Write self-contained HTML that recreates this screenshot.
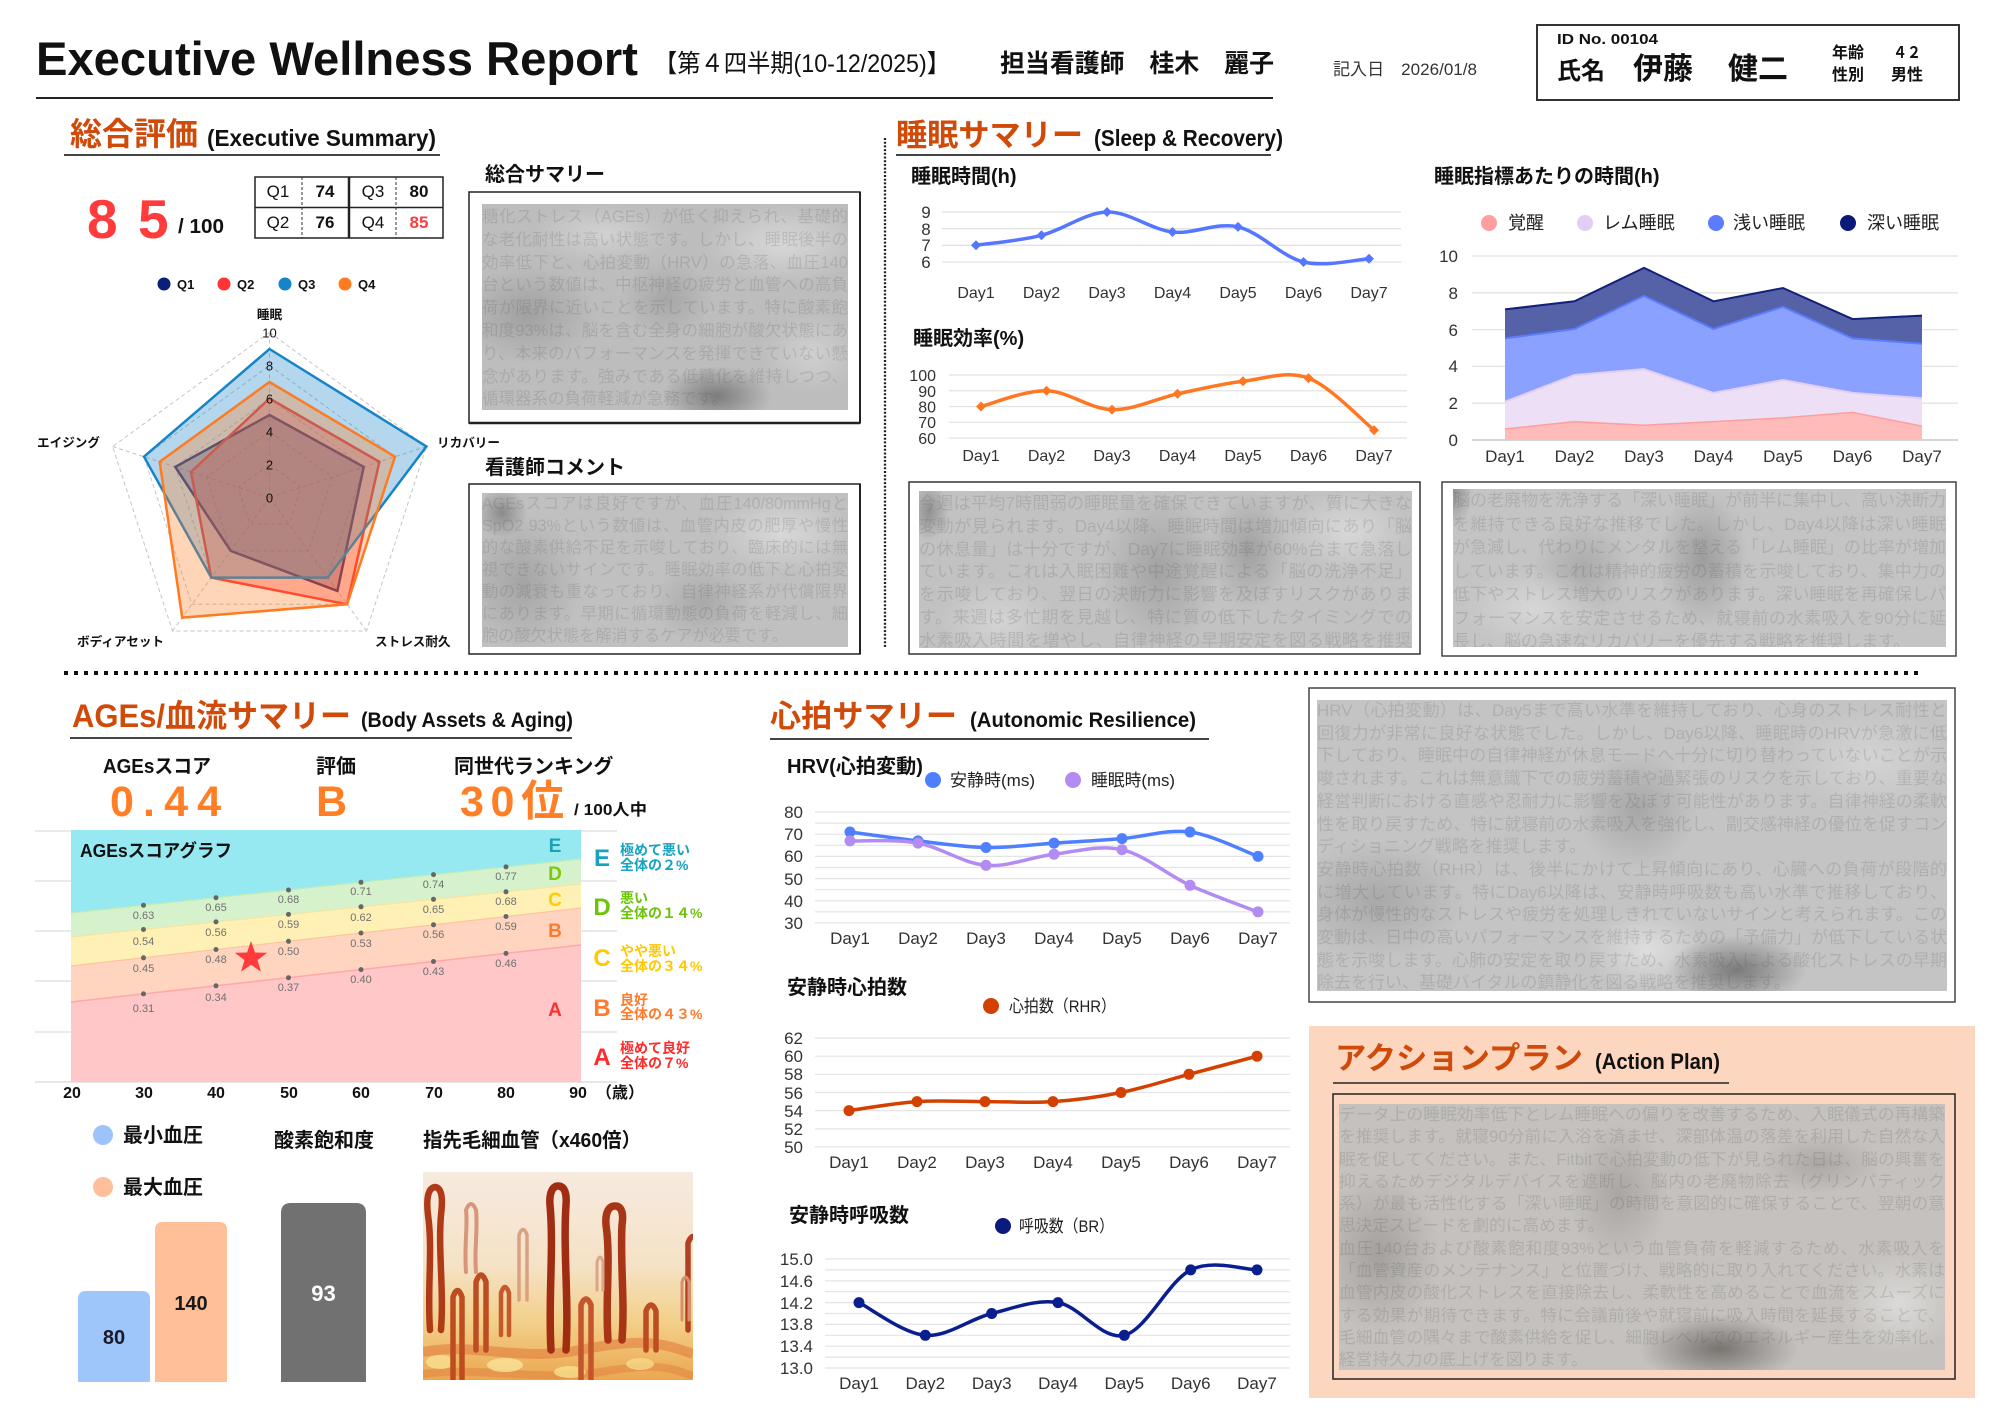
<!DOCTYPE html>
<html lang="ja">
<head>
<meta charset="utf-8">
<title>Executive Wellness Report</title>
<style>
html,body{margin:0;padding:0;background:#fff;}
#pg{position:relative;width:2000px;height:1414px;overflow:hidden;background:#fff;font-family:"Liberation Sans","Noto Sans CJK JP",sans-serif;}
#pg>svg{position:absolute;left:0;top:0;}
svg text{font-family:"Liberation Sans","Noto Sans CJK JP",sans-serif;}
.b{font-weight:bold;}
.mos{position:absolute;overflow:hidden;color:rgba(70,70,70,.16);font-family:"Liberation Sans","Noto Sans CJK JP",sans-serif;text-align:justify;box-sizing:border-box;}
</style>
</head>
<body>
<div id="pg">
<svg width="2000" height="1414" viewBox="0 0 2000 1414" xmlns="http://www.w3.org/2000/svg" fill="#111">
<defs>
<linearGradient id="capg" x1="0" y1="0" x2="0" y2="1">
<stop offset="0" stop-color="#f6eadf"/>
<stop offset="0.45" stop-color="#f5e2c6"/>
<stop offset="0.72" stop-color="#f3d08a"/>
<stop offset="1" stop-color="#eba750"/>
</linearGradient>
<clipPath id="capc"><rect x="423" y="1172" width="270" height="208"/></clipPath>
</defs>

<!-- ===== HEADER ===== -->
<text x="36" y="75" font-size="47" class="b" textLength="602" lengthAdjust="spacingAndGlyphs">Executive Wellness Report</text>
<text x="654" y="72" font-size="25" textLength="296" lengthAdjust="spacingAndGlyphs">【第４四半期(10-12/2025)】</text>
<line x1="36" y1="98" x2="1273" y2="98" stroke="#222" stroke-width="2"/>
<text x="1000" y="72" font-size="25" class="b" textLength="274" lengthAdjust="spacingAndGlyphs">担当看護師　桂木　麗子</text>
<text x="1333" y="75" font-size="17" fill="#333" textLength="144" lengthAdjust="spacingAndGlyphs">記入日　2026/01/8</text>
<rect x="1537" y="25" width="422" height="75" fill="#fff" stroke="#333" stroke-width="2"/>
<text x="1557" y="44" font-size="15" class="b" textLength="101" lengthAdjust="spacingAndGlyphs">ID No. 00104</text>
<text x="1557" y="79" font-size="24" class="b">氏名</text>
<text x="1633" y="79" font-size="30" class="b">伊藤</text>
<text x="1728" y="79" font-size="30" class="b">健二</text>
<text x="1832" y="58" font-size="16" class="b">年齢</text>
<text x="1893" y="58" font-size="16" class="b" textLength="28" lengthAdjust="spacingAndGlyphs">４２</text>
<text x="1832" y="80" font-size="16" class="b">性別</text>
<text x="1891" y="80" font-size="16" class="b">男性</text>

<!-- ===== EXECUTIVE SUMMARY ===== -->
<text x="70" y="145" font-size="32" class="b" fill="#d04a0a" textLength="128" lengthAdjust="spacingAndGlyphs">総合評価</text>
<text x="207" y="146" font-size="23" class="b" textLength="229" lengthAdjust="spacingAndGlyphs">(Executive Summary)</text>
<line x1="64" y1="155" x2="440" y2="155" stroke="#444" stroke-width="2"/>

<text x="87" y="238" font-size="55" class="b" fill="#ff3b3b">8</text>
<text x="138" y="238" font-size="55" class="b" fill="#ff3b3b">5</text>
<text x="178" y="233" font-size="20" class="b" textLength="46" lengthAdjust="spacingAndGlyphs">/ 100</text>

<!-- Q table -->
<rect x="255" y="177" width="188" height="61" fill="#fff" stroke="#222" stroke-width="1.5"/>
<line x1="255" y1="207.5" x2="443" y2="207.5" stroke="#222" stroke-width="1.5"/>
<line x1="349" y1="177" x2="349" y2="238" stroke="#222" stroke-width="2.5"/>
<line x1="302" y1="177" x2="302" y2="238" stroke="#333" stroke-width="1" stroke-dasharray="3 2"/>
<line x1="396" y1="177" x2="396" y2="238" stroke="#333" stroke-width="1" stroke-dasharray="3 2"/>
<g font-size="17" text-anchor="middle">
<text x="278" y="197">Q1</text><text x="325" y="197" class="b">74</text>
<text x="373" y="197">Q3</text><text x="419" y="197" class="b">80</text>
<text x="278" y="228">Q2</text><text x="325" y="228" class="b">76</text>
<text x="373" y="228">Q4</text><text x="419" y="228" class="b" fill="#ff3b3b">85</text>
</g>

<!-- radar legend -->
<circle cx="164" cy="284" r="6.5" fill="#0b1f7a"/><text x="177" y="289" font-size="13" class="b">Q1</text>
<circle cx="224" cy="284" r="6.5" fill="#ff3333"/><text x="237" y="289" font-size="13" class="b">Q2</text>
<circle cx="285" cy="284" r="6.5" fill="#1684c9"/><text x="298" y="289" font-size="13" class="b">Q3</text>
<circle cx="345" cy="284" r="6.5" fill="#ff7b22"/><text x="358" y="289" font-size="13" class="b">Q4</text>

<!-- radar grid -->
<g fill="none" stroke="#c4c4c4" stroke-width="1" stroke-dasharray="4 3">
<polygon points="269.5,332.5 426.4,446.5 366.5,631 172.5,631 112.6,446.5"/>
<polygon points="269.5,365.5 395,456.7 347.1,604.3 191.9,604.3 144,456.7"/>
<polygon points="269.5,398.5 363.7,466.9 327.7,577.6 211.3,577.6 175.3,466.9"/>
<polygon points="269.5,431.5 332.3,477.1 308.3,550.9 230.7,550.9 206.7,477.1"/>
<polygon points="269.5,464.5 300.9,487.3 288.9,524.2 250.1,524.2 238.1,487.3"/>
<line x1="269.5" y1="497.5" x2="269.5" y2="332.5"/>
<line x1="269.5" y1="497.5" x2="426.4" y2="446.5"/>
<line x1="269.5" y1="497.5" x2="366.5" y2="631"/>
<line x1="269.5" y1="497.5" x2="172.5" y2="631"/>
<line x1="269.5" y1="497.5" x2="112.6" y2="446.5"/>
</g>
<!-- radar series -->
<g stroke-width="2.5" stroke-linejoin="miter">
<polygon points="269.5,415 363.7,466.9 337.4,590.9 230.7,550.9 175.3,466.9" fill="#0b1f7a" fill-opacity="0.32" stroke="#0b1f7a"/>
<polygon points="269.5,398.5 379.4,461.8 347.1,604.3 211.3,577.6 191,472" fill="#ff3333" fill-opacity="0.32" stroke="#ff3333"/>
<polygon points="269.5,349 426.4,446.5 327.7,577.6 211.3,577.6 144,456.7" fill="#1684c9" fill-opacity="0.32" stroke="#1684c9"/>
<polygon points="269.5,382 395,456.7 347.1,604.3 182.2,617.6 159.7,461.8" fill="#ff7b22" fill-opacity="0.32" stroke="#ff7b22"/>
</g>
<g font-size="13" text-anchor="middle">
<text x="269.5" y="337.5">10</text>
<text x="269.5" y="370.5">8</text>
<text x="269.5" y="403.5">6</text>
<text x="269.5" y="436.5">4</text>
<text x="269.5" y="469.5">2</text>
<text x="269.5" y="502.5">0</text>
</g>
<g font-size="12.6" class="b">
<text x="269.5" y="319" text-anchor="middle">睡眠</text>
<text x="437" y="447">リカバリー</text>
<text x="375" y="646">ストレス耐久</text>
<text x="77" y="646">ボディアセット</text>
<text x="37" y="447">エイジング</text>
</g>

<!-- summary boxes -->
<text x="485" y="181" font-size="20" class="b">総合サマリー</text>
<rect x="469" y="192" width="391" height="231" fill="#fff" stroke="#222" stroke-width="1.5"/>
<line x1="469" y1="423" x2="860" y2="423" stroke="#222" stroke-width="2.5"/>
<line x1="860" y1="192" x2="860" y2="423" stroke="#222" stroke-width="2"/>
<text x="485" y="474" font-size="20" class="b">看護師コメント</text>
<rect x="469" y="484" width="391" height="170" fill="#fff" stroke="#222" stroke-width="1.5"/>
<line x1="860" y1="484" x2="860" y2="654" stroke="#222" stroke-width="2"/>

<!-- separators -->
<line x1="885" y1="138" x2="885" y2="648" stroke="#222" stroke-width="2.3" stroke-dasharray="2 1.7"/>
<line x1="64" y1="673" x2="1918" y2="673" stroke="#111" stroke-width="4" stroke-dasharray="4 6"/>

<!-- ===== SLEEP ===== -->
<text x="896" y="146" font-size="31" class="b" fill="#d04a0a" textLength="187" lengthAdjust="spacingAndGlyphs">睡眠サマリー</text>
<text x="1094" y="146" font-size="23" class="b" textLength="189" lengthAdjust="spacingAndGlyphs">(Sleep &amp; Recovery)</text>
<line x1="896" y1="155" x2="1271" y2="155" stroke="#444" stroke-width="2"/>

<text x="911" y="183" font-size="20" class="b">睡眠時間(h)</text>
<g stroke="#e2e2e2" stroke-width="1.3">
<line x1="942" y1="212" x2="1401" y2="212"/><line x1="942" y1="228.7" x2="1401" y2="228.7"/>
<line x1="942" y1="245.3" x2="1401" y2="245.3"/><line x1="942" y1="262" x2="1401" y2="262"/>
</g>
<g font-size="17" fill="#333" text-anchor="middle">
<text x="926" y="218">9</text><text x="926" y="235">8</text><text x="926" y="251">7</text><text x="926" y="268">6</text>
</g>
<path d="M976,245.3 C986.9,243.6 1019.7,240.9 1041.5,235.3 C1063.3,229.8 1085.2,212.6 1107,212 C1128.8,211.5 1150.7,229.5 1172.5,232 C1194.3,234.5 1216.2,221.9 1238,226.9 C1259.8,231.9 1281.7,256.7 1303.5,262 C1325.3,267.3 1358.1,259.25 1369,258.7" fill="none" stroke="#5577ff" stroke-width="3.5"/>
<g fill="#5577ff">
<path d="M976,240.3 L981,245.3 L976,250.3 L971,245.3Z"/>
<path d="M1041.5,230.3 L1046.5,235.3 L1041.5,240.3 L1036.5,235.3Z"/>
<path d="M1107,207 L1112,212 L1107,217 L1102,212Z"/>
<path d="M1172.5,227 L1177.5,232 L1172.5,237 L1167.5,232Z"/>
<path d="M1238,221.9 L1243,226.9 L1238,231.9 L1233,226.9Z"/>
<path d="M1303.5,257 L1308.5,262 L1303.5,267 L1298.5,262Z"/>
<path d="M1369,253.7 L1374,258.7 L1369,263.7 L1364,258.7Z"/>
</g>
<g font-size="16" fill="#333" text-anchor="middle">
<text x="976" y="298">Day1</text><text x="1041.5" y="298">Day2</text><text x="1107" y="298">Day3</text><text x="1172.5" y="298">Day4</text><text x="1238" y="298">Day5</text><text x="1303.5" y="298">Day6</text><text x="1369" y="298">Day7</text>
</g>

<text x="913" y="345" font-size="20" class="b">睡眠効率(%)</text>
<g stroke="#e2e2e2" stroke-width="1.3">
<line x1="949" y1="375" x2="1407" y2="375"/><line x1="949" y1="390.75" x2="1407" y2="390.75"/>
<line x1="949" y1="406.5" x2="1407" y2="406.5"/><line x1="949" y1="422.25" x2="1407" y2="422.25"/>
<line x1="949" y1="438" x2="1407" y2="438"/>
</g>
<g font-size="16" fill="#333" text-anchor="end">
<text x="936" y="381">100</text><text x="936" y="397">90</text><text x="936" y="412.5">80</text><text x="936" y="428">70</text><text x="936" y="444">60</text>
</g>
<path d="M981,406.5 C991.9,403.9 1024.7,390.2 1046.5,390.75 C1068.3,391.3 1090.2,409.1 1112,409.65 C1133.8,410.2 1155.7,398.6 1177.5,393.9 C1199.3,389.2 1221.2,383.9 1243,381.3 C1264.8,378.7 1286.7,370 1308.5,378.15 C1330.3,386.3 1363.1,421.4 1374,430.1" fill="none" stroke="#ff7722" stroke-width="3.5"/>
<g fill="#ff7722">
<path d="M981,401.5 L986,406.5 L981,411.5 L976,406.5Z"/>
<path d="M1046.5,385.75 L1051.5,390.75 L1046.5,395.75 L1041.5,390.75Z"/>
<path d="M1112,404.65 L1117,409.65 L1112,414.65 L1107,409.65Z"/>
<path d="M1177.5,388.9 L1182.5,393.9 L1177.5,398.9 L1172.5,393.9Z"/>
<path d="M1243,376.3 L1248,381.3 L1243,386.3 L1238,381.3Z"/>
<path d="M1308.5,373.15 L1313.5,378.15 L1308.5,383.15 L1303.5,378.15Z"/>
<path d="M1374,425.1 L1379,430.1 L1374,435.1 L1369,430.1Z"/>
</g>
<g font-size="16" fill="#333" text-anchor="middle">
<text x="981" y="461">Day1</text><text x="1046.5" y="461">Day2</text><text x="1112" y="461">Day3</text><text x="1177.5" y="461">Day4</text><text x="1243" y="461">Day5</text><text x="1308.5" y="461">Day6</text><text x="1374" y="461">Day7</text>
</g>

<!-- Sleep stages -->
<text x="1434" y="183" font-size="20" class="b">睡眠指標あたりの時間(h)</text>
<circle cx="1489" cy="223" r="8" fill="#ff9f9f"/><text x="1508" y="229" font-size="18" fill="#222">覚醒</text>
<circle cx="1585" cy="223" r="8" fill="#e2cdf6"/><text x="1603" y="229" font-size="18" fill="#222">レム睡眠</text>
<circle cx="1716" cy="223" r="8" fill="#5b7cff"/><text x="1733" y="229" font-size="18" fill="#222">浅い睡眠</text>
<circle cx="1848" cy="223" r="8" fill="#0b1a78"/><text x="1867" y="229" font-size="18" fill="#222">深い睡眠</text>
<g stroke="#e2e2e2" stroke-width="1.3">
<line x1="1472" y1="256" x2="1958" y2="256"/><line x1="1472" y1="292.8" x2="1958" y2="292.8"/>
<line x1="1472" y1="329.6" x2="1958" y2="329.6"/><line x1="1472" y1="366.4" x2="1958" y2="366.4"/>
<line x1="1472" y1="403.2" x2="1958" y2="403.2"/>
</g>
<line x1="1472" y1="440" x2="1958" y2="440" stroke="#c8c8c8" stroke-width="1.5"/>
<polygon points="1505,309.4 1574.5,301.3 1644,267.8 1713.5,301.3 1783,288 1852.5,319.1 1922,315.6 1922,440 1505,440" fill="#5562a8"/>
<polyline points="1505,309.4 1574.5,301.3 1644,267.8 1713.5,301.3 1783,288 1852.5,319.1 1922,315.6" fill="none" stroke="#13207a" stroke-width="2"/>
<polygon points="1505,338.4 1574.5,329 1644,295.9 1713.5,329 1783,306.8 1852.5,338.4 1922,343.8 1922,440 1505,440" fill="#8aa1ff"/>
<polyline points="1505,338.4 1574.5,329 1644,295.9 1713.5,329 1783,306.8 1852.5,338.4 1922,343.8" fill="none" stroke="#5b7cff" stroke-width="2"/>
<polygon points="1505,401.7 1574.5,375 1644,369.2 1713.5,392.9 1783,380 1852.5,392.9 1922,398.2 1922,440 1505,440" fill="#ecdff6"/>
<polyline points="1505,401.7 1574.5,375 1644,369.2 1713.5,392.9 1783,380 1852.5,392.9 1922,398.2" fill="none" stroke="#e2cdf4" stroke-width="2"/>
<polygon points="1505,429 1574.5,421.6 1644,425.3 1713.5,421.6 1783,417.9 1852.5,412.4 1922,426.2 1922,440 1505,440" fill="#ffbaba"/>
<polyline points="1505,429 1574.5,421.6 1644,425.3 1713.5,421.6 1783,417.9 1852.5,412.4 1922,426.2" fill="none" stroke="#ff9e9e" stroke-width="1.5"/>
<g font-size="17" fill="#333" text-anchor="end">
<text x="1458" y="262">10</text><text x="1458" y="299">8</text><text x="1458" y="336">6</text><text x="1458" y="372">4</text><text x="1458" y="409">2</text><text x="1458" y="446">0</text>
</g>
<g font-size="17" fill="#333" text-anchor="middle">
<text x="1505" y="462">Day1</text><text x="1574.5" y="462">Day2</text><text x="1644" y="462">Day3</text><text x="1713.5" y="462">Day4</text><text x="1783" y="462">Day5</text><text x="1852.5" y="462">Day6</text><text x="1922" y="462">Day7</text>
</g>

<!-- sleep comment boxes -->
<rect x="909" y="482" width="511" height="172" fill="#fff" stroke="#333" stroke-width="1.5"/>
<rect x="1442" y="482" width="514" height="174" fill="#fff" stroke="#444" stroke-width="1.5"/>

<!-- ===== AGEs ===== -->
<text x="72" y="727" font-size="32" class="b" fill="#d04a0a" textLength="279" lengthAdjust="spacingAndGlyphs">AGEs/血流サマリー</text>
<text x="361" y="727" font-size="21" class="b" textLength="212" lengthAdjust="spacingAndGlyphs">(Body Assets &amp; Aging)</text>
<line x1="70" y1="738" x2="572" y2="738" stroke="#444" stroke-width="2"/>

<text x="103" y="773" font-size="20" class="b" textLength="108" lengthAdjust="spacingAndGlyphs">AGEsスコア</text>
<text x="316" y="773" font-size="20" class="b">評価</text>
<text x="454" y="773" font-size="20" class="b">同世代ランキング</text>
<text x="110" y="816" font-size="43" class="b" fill="#ff7f27" textLength="111" lengthAdjust="spacing">0.44</text>
<text x="316" y="816" font-size="43" class="b" fill="#ff7f27">B</text>
<text x="460" y="816" font-size="43" class="b" fill="#ff7f27" textLength="104" lengthAdjust="spacing">30位</text>
<text x="574" y="815" font-size="16" class="b" textLength="73" lengthAdjust="spacingAndGlyphs">/ 100人中</text>

<g stroke="#dedede" stroke-width="1.2">
<line x1="35" y1="831" x2="617" y2="831"/><line x1="35" y1="881" x2="617" y2="881"/>
<line x1="35" y1="931" x2="617" y2="931"/><line x1="35" y1="981" x2="617" y2="981"/>
<line x1="35" y1="1032" x2="617" y2="1032"/>
</g>
<polygon points="71,830 581,830 581,859 71,913" fill="#96e9f0"/>
<polygon points="71,913 581,859 581,884 71,937" fill="#d5f2cc"/>
<polygon points="71,937 581,884 581,908 71,966" fill="#fff1b5"/>
<polygon points="71,966 581,908 581,945 71,1002" fill="#ffd5c0"/>
<polygon points="71,1002 581,945 581,1082 71,1082" fill="#ffc7c7"/>
<line x1="71" y1="913" x2="581" y2="859" stroke="#c3ebb6" stroke-width="1.2"/>
<line x1="71" y1="937" x2="581" y2="884" stroke="#f6e4a0" stroke-width="1.2"/>
<line x1="71" y1="966" x2="581" y2="908" stroke="#ffc2a0" stroke-width="1.2"/>
<line x1="71" y1="1002" x2="581" y2="945" stroke="#ffa8a8" stroke-width="1.5"/>
<line x1="35" y1="1082" x2="617" y2="1082" stroke="#d6d6d6" stroke-width="1.2"/>
<text x="80" y="857" font-size="18" class="b" textLength="152" lengthAdjust="spacingAndGlyphs">AGEsスコアグラフ</text>
<g fill="#666">
<circle cx="143.5" cy="905.3" r="2.5"/><circle cx="143.5" cy="929.5" r="2.5"/><circle cx="143.5" cy="957.8" r="2.5"/><circle cx="143.5" cy="993.9" r="2.5"/>
<circle cx="216" cy="897.7" r="2.5"/><circle cx="216" cy="921.9" r="2.5"/><circle cx="216" cy="949.5" r="2.5"/><circle cx="216" cy="985.8" r="2.5"/>
<circle cx="288.5" cy="890" r="2.5"/><circle cx="288.5" cy="914.4" r="2.5"/><circle cx="288.5" cy="941.3" r="2.5"/><circle cx="288.5" cy="977.7" r="2.5"/>
<circle cx="361" cy="882.3" r="2.5"/><circle cx="361" cy="906.8" r="2.5"/><circle cx="361" cy="933" r="2.5"/><circle cx="361" cy="969.6" r="2.5"/>
<circle cx="433.5" cy="874.6" r="2.5"/><circle cx="433.5" cy="899.3" r="2.5"/><circle cx="433.5" cy="924.8" r="2.5"/><circle cx="433.5" cy="961.5" r="2.5"/>
<circle cx="506" cy="866.9" r="2.5"/><circle cx="506" cy="891.8" r="2.5"/><circle cx="506" cy="916.5" r="2.5"/><circle cx="506" cy="953.4" r="2.5"/>
</g>
<g font-size="11" fill="#707070" text-anchor="middle">
<text x="143.5" y="919">0.63</text><text x="143.5" y="945">0.54</text><text x="143.5" y="972">0.45</text><text x="143.5" y="1012">0.31</text>
<text x="216" y="911">0.65</text><text x="216" y="936">0.56</text><text x="216" y="963">0.48</text><text x="216" y="1001">0.34</text>
<text x="288.5" y="903">0.68</text><text x="288.5" y="928">0.59</text><text x="288.5" y="955">0.50</text><text x="288.5" y="991">0.37</text>
<text x="361" y="895">0.71</text><text x="361" y="921">0.62</text><text x="361" y="947">0.53</text><text x="361" y="983">0.40</text>
<text x="433.5" y="888">0.74</text><text x="433.5" y="913">0.65</text><text x="433.5" y="938">0.56</text><text x="433.5" y="975">0.43</text>
<text x="506" y="880">0.77</text><text x="506" y="905">0.68</text><text x="506" y="930">0.59</text><text x="506" y="967">0.46</text>
</g>
<polygon points="251,941 255,952.5 267.2,952.7 257.5,960.1 261,971.8 251,964.8 241,971.8 244.5,960.1 234.8,952.7 247,952.5" fill="#ff3b3b"/>
<g font-size="19" class="b" text-anchor="middle">
<text x="555" y="852" fill="#1aa3b5">E</text>
<text x="555" y="880" fill="#7cc90f">D</text>
<text x="555" y="906" fill="#ffcc00">C</text>
<text x="555" y="937" fill="#ff7a2a">B</text>
<text x="555" y="1016" fill="#ff3030">A</text>
</g>
<g font-size="24" class="b" text-anchor="middle">
<text x="602" y="866" fill="#17a2c0">E</text>
<text x="602" y="915" fill="#6cc40a">D</text>
<text x="602" y="966" fill="#ffc800">C</text>
<text x="602" y="1016" fill="#ff7a2a">B</text>
<text x="602" y="1065" fill="#ff2a2a">A</text>
</g>
<g font-size="14" class="b">
<text x="620" y="855" fill="#17a2c0">極めて悪い</text><text x="620" y="870" fill="#17a2c0">全体の２%</text>
<text x="620" y="903" fill="#6cc40a">悪い</text><text x="620" y="918" fill="#6cc40a">全体の１４%</text>
<text x="620" y="956" fill="#ffc800">やや悪い</text><text x="620" y="971" fill="#ffc800">全体の３４%</text>
<text x="620" y="1005" fill="#ff7a2a">良好</text><text x="620" y="1019" fill="#ff7a2a">全体の４３%</text>
<text x="620" y="1053" fill="#ff2a2a">極めて良好</text><text x="620" y="1068" fill="#ff2a2a">全体の７%</text>
</g>
<g font-size="16" class="b" text-anchor="middle">
<text x="72" y="1098">20</text><text x="144" y="1098">30</text><text x="216" y="1098">40</text><text x="289" y="1098">50</text>
<text x="361" y="1098">60</text><text x="434" y="1098">70</text><text x="506" y="1098">80</text><text x="578" y="1098">90</text>
</g>
<text x="596" y="1098" font-size="16" class="b">（歳）</text>

<!-- BP / SpO2 -->
<circle cx="103" cy="1135" r="10" fill="#9dc3fb"/>
<text x="123" y="1142" font-size="20" class="b">最小血圧</text>
<circle cx="103" cy="1187" r="10" fill="#ffbf9b"/>
<text x="123" y="1194" font-size="20" class="b">最大血圧</text>
<text x="274" y="1147" font-size="20" class="b">酸素飽和度</text>
<text x="423" y="1147" font-size="20" class="b" textLength="218" lengthAdjust="spacingAndGlyphs">指先毛細血管（x460倍）</text>
<path d="M78,1382 V1299 Q78,1291 86,1291 H142 Q150,1291 150,1299 V1382 Z" fill="#9ec6fb"/>
<path d="M155,1382 V1230 Q155,1222 163,1222 H219 Q227,1222 227,1230 V1382 Z" fill="#ffbf99"/>
<path d="M281,1382 V1213 Q281,1203 291,1203 H356 Q366,1203 366,1213 V1382 Z" fill="#717171"/>
<text x="114" y="1344" font-size="20" class="b" text-anchor="middle" fill="#1a1a2a">80</text>
<text x="191" y="1310" font-size="20" class="b" text-anchor="middle" fill="#1a1a1a">140</text>
<text x="323.5" y="1301" font-size="22" class="b" text-anchor="middle" fill="#fff">93</text>

<!-- capillary image -->
<g clip-path="url(#capc)">
<rect x="423" y="1172" width="270" height="208" fill="url(#capg)"/>
<path d="M423,1352 C470,1342 520,1362 580,1350 S660,1342 693,1354" stroke="#e0783a" stroke-width="10" fill="none" opacity=".55"/>
<path d="M423,1374 C480,1366 540,1382 600,1372 S670,1368 693,1376" stroke="#e08040" stroke-width="8" fill="none" opacity=".5"/>
<ellipse cx="440" cy="1362" rx="14" ry="7" fill="#f8e092" opacity=".8"/>
<ellipse cx="505" cy="1365" rx="18" ry="7" fill="#f9e49a" opacity=".8"/>
<ellipse cx="570" cy="1372" rx="16" ry="6" fill="#f8e08c" opacity=".8"/>
<ellipse cx="640" cy="1364" rx="14" ry="6" fill="#f6d88a" opacity=".8"/>
<g fill="none" stroke-linecap="round" stroke-linejoin="round">
<path d="M430,1330 C427,1290 433,1250 428,1215 C426,1198 428,1188 435,1187 C442,1188 443,1198 441,1215 C438,1250 444,1290 441,1330" stroke="#b03a18" stroke-width="6.5"/>
<path d="M466,1272 C464,1245 468,1225 466,1210 Q471,1198 476,1210 C478,1230 474,1250 476,1272" stroke="#d8957a" stroke-width="4"/>
<path d="M551,1350 C548,1300 554,1250 550,1205 C549,1192 553,1186 558,1186 C564,1186 567,1192 566,1205 C563,1250 569,1300 566,1350" stroke="#a02c12" stroke-width="7.5"/>
<path d="M608,1340 C605,1300 611,1260 606,1225 C605,1212 609,1206 615,1206 C621,1206 624,1212 622,1225 C620,1260 625,1300 622,1340" stroke="#a83515" stroke-width="7.5"/>
<path d="M476,1350 L476,1282 Q481,1268 486,1282 L486,1350" stroke="#bd4c20" stroke-width="5.5"/>
<path d="M453,1380 L453,1297 Q457.5,1284 462,1297 L462,1380" stroke="#bd4c20" stroke-width="5.5"/>
<path d="M501,1335 L501,1293 Q505,1281 509,1293 L509,1335" stroke="#c4592c" stroke-width="4.5"/>
<path d="M519,1300 L519,1235 Q523,1224 527,1235 L527,1300" stroke="#dba083" stroke-width="3.5"/>
<path d="M646,1350 L646,1311 Q651,1299 656,1311 L656,1350" stroke="#bd4c20" stroke-width="5.5"/>
<path d="M688,1330 L688,1243 Q693,1230 698,1243 L698,1330" stroke="#b04020" stroke-width="5.5"/>
<path d="M581,1380 L581,1305 Q586,1293 591,1305 L591,1380" stroke="#c4552c" stroke-width="5.5"/>
<path d="M597,1290 L597,1262 Q600,1252 603,1262 L603,1290" stroke="#dca488" stroke-width="3"/>
<path d="M682,1320 L682,1282 Q685.5,1272 689,1282 L689,1320" stroke="#d69070" stroke-width="3"/>
</g>
</g>

<!-- ===== HEART ===== -->
<text x="770" y="727" font-size="31" class="b" fill="#d04a0a" textLength="187" lengthAdjust="spacingAndGlyphs">心拍サマリー</text>
<text x="970" y="727" font-size="21" class="b" textLength="226" lengthAdjust="spacingAndGlyphs">(Autonomic Resilience)</text>
<line x1="770" y1="739" x2="1209" y2="739" stroke="#444" stroke-width="2"/>

<text x="787" y="773" font-size="20" class="b" textLength="136" lengthAdjust="spacingAndGlyphs">HRV(心拍変動)</text>
<circle cx="933" cy="780" r="8" fill="#4d7fff"/>
<text x="950" y="786" font-size="17" fill="#222" textLength="85" lengthAdjust="spacingAndGlyphs">安静時(ms)</text>
<circle cx="1073" cy="780" r="8" fill="#b38cf2"/>
<text x="1091" y="786" font-size="17" fill="#222" textLength="84" lengthAdjust="spacingAndGlyphs">睡眠時(ms)</text>
<g stroke="#e4e4e4" stroke-width="1.2">
<line x1="815" y1="812" x2="1290" y2="812"/><line x1="815" y1="823.1" x2="1290" y2="823.1"/>
<line x1="815" y1="834.2" x2="1290" y2="834.2"/><line x1="815" y1="845.3" x2="1290" y2="845.3"/>
<line x1="815" y1="856.4" x2="1290" y2="856.4"/><line x1="815" y1="867.5" x2="1290" y2="867.5"/>
<line x1="815" y1="878.6" x2="1290" y2="878.6"/><line x1="815" y1="889.7" x2="1290" y2="889.7"/>
<line x1="815" y1="900.8" x2="1290" y2="900.8"/><line x1="815" y1="911.9" x2="1290" y2="911.9"/>
<line x1="815" y1="923" x2="1290" y2="923"/>
</g>
<g font-size="17" fill="#333" text-anchor="end">
<text x="803" y="818">80</text><text x="803" y="840">70</text><text x="803" y="862">60</text><text x="803" y="885">50</text><text x="803" y="907">40</text><text x="803" y="929">30</text>
</g>
<path d="M850,832 C861.3,833.5 895.3,838.3 918,840.9 C940.7,843.5 963.3,847.1 986,847.5 C1008.7,847.9 1031.3,844.6 1054,843.1 C1076.7,841.6 1099.3,840.5 1122,838.6 C1144.7,836.8 1167.3,829 1190,832 C1212.7,835 1246.7,852.3 1258,856.4" fill="none" stroke="#4d7fff" stroke-width="3.5"/>
<path d="M850,840.9 C861.3,841.3 895.3,839 918,843.1 C940.7,847.2 963.3,863.5 986,865.3 C1008.7,867.2 1031.3,856.8 1054,854.2 C1076.7,851.6 1099.3,844.5 1122,849.7 C1144.7,854.9 1167.3,874.9 1190,885.3 C1212.7,895.7 1246.7,907.5 1258,911.9" fill="none" stroke="#b38cf2" stroke-width="3.5"/>
<g fill="#4d7fff">
<circle cx="850" cy="832" r="5.5"/><circle cx="918" cy="840.9" r="5.5"/><circle cx="986" cy="847.5" r="5.5"/><circle cx="1054" cy="843.1" r="5.5"/><circle cx="1122" cy="838.6" r="5.5"/><circle cx="1190" cy="832" r="5.5"/><circle cx="1258" cy="856.4" r="5.5"/>
</g>
<g fill="#b38cf2">
<circle cx="850" cy="840.9" r="5.5"/><circle cx="918" cy="843.1" r="5.5"/><circle cx="986" cy="865.3" r="5.5"/><circle cx="1054" cy="854.2" r="5.5"/><circle cx="1122" cy="849.7" r="5.5"/><circle cx="1190" cy="885.3" r="5.5"/><circle cx="1258" cy="911.9" r="5.5"/>
</g>
<g font-size="17" fill="#333" text-anchor="middle">
<text x="850" y="944">Day1</text><text x="918" y="944">Day2</text><text x="986" y="944">Day3</text><text x="1054" y="944">Day4</text><text x="1122" y="944">Day5</text><text x="1190" y="944">Day6</text><text x="1258" y="944">Day7</text>
</g>

<text x="787" y="994" font-size="20" class="b">安静時心拍数</text>
<circle cx="991" cy="1006" r="8" fill="#d44000"/>
<text x="1009" y="1012" font-size="17" fill="#222" textLength="107" lengthAdjust="spacingAndGlyphs">心拍数（RHR）</text>
<g stroke="#e4e4e4" stroke-width="1.2">
<line x1="815" y1="1038" x2="1290" y2="1038"/><line x1="815" y1="1056.2" x2="1290" y2="1056.2"/>
<line x1="815" y1="1074.3" x2="1290" y2="1074.3"/><line x1="815" y1="1092.5" x2="1290" y2="1092.5"/>
<line x1="815" y1="1110.6" x2="1290" y2="1110.6"/><line x1="815" y1="1128.8" x2="1290" y2="1128.8"/>
<line x1="815" y1="1147" x2="1290" y2="1147"/>
</g>
<g font-size="17" fill="#333" text-anchor="end">
<text x="803" y="1044">62</text><text x="803" y="1062">60</text><text x="803" y="1080">58</text><text x="803" y="1099">56</text><text x="803" y="1117">54</text><text x="803" y="1135">52</text><text x="803" y="1153">50</text>
</g>
<path d="M849,1110.6 C860.3,1109.1 894.3,1103.1 917,1101.6 C939.7,1100.1 962.3,1101.6 985,1101.6 C1007.7,1101.6 1030.3,1103.1 1053,1101.6 C1075.7,1100.1 1098.3,1097.1 1121,1092.5 C1143.7,1088 1166.3,1080.4 1189,1074.3 C1211.7,1068.3 1245.7,1059.2 1257,1056.2" fill="none" stroke="#d44000" stroke-width="3.5"/>
<g fill="#d44000">
<circle cx="849" cy="1110.6" r="5.5"/><circle cx="917" cy="1101.6" r="5.5"/><circle cx="985" cy="1101.6" r="5.5"/><circle cx="1053" cy="1101.6" r="5.5"/><circle cx="1121" cy="1092.5" r="5.5"/><circle cx="1189" cy="1074.3" r="5.5"/><circle cx="1257" cy="1056.2" r="5.5"/>
</g>
<g font-size="17" fill="#333" text-anchor="middle">
<text x="849" y="1168">Day1</text><text x="917" y="1168">Day2</text><text x="985" y="1168">Day3</text><text x="1053" y="1168">Day4</text><text x="1121" y="1168">Day5</text><text x="1189" y="1168">Day6</text><text x="1257" y="1168">Day7</text>
</g>

<text x="789" y="1222" font-size="20" class="b">安静時呼吸数</text>
<circle cx="1003" cy="1226" r="8" fill="#0a1a7e"/>
<text x="1019" y="1232" font-size="17" fill="#222" textLength="95" lengthAdjust="spacingAndGlyphs">呼吸数（BR）</text>
<g stroke="#e4e4e4" stroke-width="1.2">
<line x1="825" y1="1259" x2="1290" y2="1259"/><line x1="825" y1="1269.9" x2="1290" y2="1269.9"/>
<line x1="825" y1="1280.8" x2="1290" y2="1280.8"/><line x1="825" y1="1291.7" x2="1290" y2="1291.7"/>
<line x1="825" y1="1302.6" x2="1290" y2="1302.6"/><line x1="825" y1="1313.5" x2="1290" y2="1313.5"/>
<line x1="825" y1="1324.4" x2="1290" y2="1324.4"/><line x1="825" y1="1335.3" x2="1290" y2="1335.3"/>
<line x1="825" y1="1346.2" x2="1290" y2="1346.2"/><line x1="825" y1="1357.1" x2="1290" y2="1357.1"/>
<line x1="825" y1="1368" x2="1290" y2="1368"/>
</g>
<g font-size="17" fill="#333" text-anchor="end">
<text x="813" y="1265">15.0</text><text x="813" y="1287">14.6</text><text x="813" y="1309">14.2</text><text x="813" y="1330">13.8</text><text x="813" y="1352">13.4</text><text x="813" y="1374">13.0</text>
</g>
<path d="M859,1302.6 C870.1,1308.05 903.2,1333.5 925.3,1335.3 C947.4,1337.1 969.6,1318.95 991.7,1313.5 C1013.8,1308.05 1035.9,1298.97 1058,1302.6 C1080.1,1306.23 1102.2,1340.75 1124.3,1335.3 C1146.4,1329.85 1168.6,1280.8 1190.7,1269.9 C1212.8,1259 1246,1269.9 1257,1269.9" fill="none" stroke="#0a1f8f" stroke-width="3.5"/>
<g fill="#0a1f8f">
<circle cx="859" cy="1302.6" r="5.5"/><circle cx="925.3" cy="1335.3" r="5.5"/><circle cx="991.7" cy="1313.5" r="5.5"/><circle cx="1058" cy="1302.6" r="5.5"/><circle cx="1124.3" cy="1335.3" r="5.5"/><circle cx="1190.7" cy="1269.9" r="5.5"/><circle cx="1257" cy="1269.9" r="5.5"/>
</g>
<g font-size="17" fill="#333" text-anchor="middle">
<text x="859" y="1389">Day1</text><text x="925.3" y="1389">Day2</text><text x="991.7" y="1389">Day3</text><text x="1058" y="1389">Day4</text><text x="1124.3" y="1389">Day5</text><text x="1190.7" y="1389">Day6</text><text x="1257" y="1389">Day7</text>
</g>

<!-- right boxes -->
<rect x="1309" y="688" width="646" height="314" fill="#fff" stroke="#444" stroke-width="1.5"/>
<rect x="1309" y="1026" width="666" height="372" fill="#fdd6bf"/>
<text x="1335" y="1069" font-size="31" class="b" fill="#d04a0a" textLength="248" lengthAdjust="spacingAndGlyphs">アクションプラン</text>
<text x="1595" y="1069" font-size="22" class="b" textLength="125" lengthAdjust="spacingAndGlyphs">(Action Plan)</text>
<line x1="1333" y1="1083" x2="1729" y2="1083" stroke="#222" stroke-width="1.5"/>
<rect x="1333" y="1094" width="622" height="285" fill="none" stroke="#222" stroke-width="1.5"/>
</svg>

<div class="mos" style="left:482px;top:204px;width:366px;height:206px;font-size:16.5px;line-height:22.8px;padding-top:2px;background:radial-gradient(ellipse 55px 30px at 235px 192px,#7c7c7c,rgba(124,124,124,0)),radial-gradient(ellipse 70px 50px at 45px 110px,#a0a0a0,rgba(160,160,160,0)),radial-gradient(ellipse 45px 40px at 185px 95px,#a6a6a6,rgba(166,166,166,0)),radial-gradient(ellipse 80px 40px at 300px 40px,#d8d8d8,rgba(216,216,216,0)),radial-gradient(ellipse 70px 30px at 120px 30px,#d2d2d2,rgba(210,210,210,0)),radial-gradient(ellipse 50px 40px at 330px 150px,#d0d0d0,rgba(208,208,208,0)),#bdbdbd;">糖化ストレス（AGEs）が低く抑えられ、基礎的な老化耐性は高い状態です。しかし、睡眠後半の効率低下と、心拍変動（HRV）の急落、血圧140台という数値は、中枢神経の疲労と血管への高負荷が限界に近いことを示しています。特に酸素飽和度93%は、脳を含む全身の細胞が酸欠状態にあり、本来のパフォーマンスを発揮できていない懸念があります。強みである低糖化を維持しつつ、循環器系の負荷軽減が急務です。</div>

<div class="mos" style="left:482px;top:493px;width:366px;height:154px;font-size:16.2px;line-height:22px;background:radial-gradient(ellipse 60px 70px at 40px 90px,#a4a4a4,rgba(164,164,164,0)),radial-gradient(ellipse 25px 25px at 20px 20px,#8a8a8a,rgba(138,138,138,0)),radial-gradient(ellipse 50px 40px at 220px 110px,#a8a8a8,rgba(168,168,168,0)),radial-gradient(ellipse 70px 40px at 300px 40px,#d8d8d8,rgba(216,216,216,0)),#c0c0c0;">AGEsスコアは良好ですが、血圧140/80mmHgとSpO2 93%という数値は、血管内皮の肥厚や慢性的な酸素供給不足を示唆しており、臨床的には無視できないサインです。睡眠効率の低下と心拍変動の減衰も重なっており、自律神経系が代償限界にあります。早期に循環動態の負荷を軽減し、細胞の酸欠状態を解消するケアが必要です。</div>

<div class="mos" style="left:919px;top:491px;width:493px;height:157px;font-size:17.2px;line-height:22.8px;padding-top:1px;background:radial-gradient(ellipse 60px 80px at 240px 80px,#a2a2a2,rgba(162,162,162,0)),radial-gradient(ellipse 40px 60px at 330px 60px,#a0a0a0,rgba(160,160,160,0)),radial-gradient(ellipse 20px 30px at 10px 20px,#909090,rgba(144,144,144,0)),radial-gradient(ellipse 60px 40px at 430px 40px,#d8d8d8,rgba(216,216,216,0)),radial-gradient(ellipse 60px 40px at 80px 130px,#d4d4d4,rgba(212,212,212,0)),#c2c2c2;">今週は平均7時間弱の睡眠量を確保できていますが、質に大きな変動が見られます。Day4以降、睡眠時間は増加傾向にあり「脳の休息量」は十分ですが、Day7に睡眠効率が60%台まで急落しています。これは入眠困難や中途覚醒による「脳の洗浄不足」を示唆しており、翌日の決断力に影響を及ぼすリスクがあります。来週は多忙期を見越し、特に質の低下したタイミングでの水素吸入時間を増やし、自律神経の早期安定を図る戦略を推奨します。</div>

<div class="mos" style="left:1453px;top:489px;width:493px;height:158px;font-size:17px;line-height:23.5px;background:radial-gradient(ellipse 45px 70px at 250px 70px,#9c9c9c,rgba(156,156,156,0)),radial-gradient(ellipse 20px 40px at 0px 0px,#909090,rgba(144,144,144,0)),radial-gradient(ellipse 70px 40px at 80px 120px,#d6d6d6,rgba(214,214,214,0)),radial-gradient(ellipse 50px 50px at 130px 80px,#aaaaaa,rgba(170,170,170,0)),#c4c4c4;">脳の老廃物を洗浄する「深い睡眠」が前半に集中し、高い決断力を維持できる良好な推移でした。しかし、Day4以降は深い睡眠が急減し、代わりにメンタルを整える「レム睡眠」の比率が増加しています。これは精神的疲労の蓄積を示唆しており、集中力の低下やストレス増大のリスクがあります。深い睡眠を再確保しパフォーマンスを安定させるため、就寝前の水素吸入を90分に延長し、脳の急速なリカバリーを優先する戦略を推奨します。</div>

<div class="mos" style="left:1317px;top:700px;width:630px;height:291px;font-size:17px;line-height:22.7px;background:radial-gradient(ellipse 70px 35px at 420px 270px,#7a7a7a,rgba(122,122,122,0)),radial-gradient(ellipse 90px 60px at 60px 200px,#a8a8a8,rgba(168,168,168,0)),radial-gradient(ellipse 60px 60px at 320px 110px,#a6a6a6,rgba(166,166,166,0)),radial-gradient(ellipse 60px 40px at 330px 250px,#dedede,rgba(222,222,222,0)),radial-gradient(ellipse 80px 50px at 550px 60px,#d4d4d4,rgba(212,212,212,0)),#c4c4c4;">HRV（心拍変動）は、Day5まで高い水準を維持しており、心身のストレス耐性と回復力が非常に良好な状態でした。しかし、Day6以降、睡眠時のHRVが急激に低下しており、睡眠中の自律神経が休息モードへ十分に切り替わっていないことが示唆されます。これは無意識下での疲労蓄積や過緊張のリスクを示しており、重要な経営判断における直感や忍耐力に影響を及ぼす可能性があります。自律神経の柔軟性を取り戻すため、特に就寝前の水素吸入を強化し、副交感神経の優位を促すコンディショニング戦略を推奨します。<br>安静時心拍数（RHR）は、後半にかけて上昇傾向にあり、心臓への負荷が段階的に増大しています。特にDay6以降は、安静時呼吸数も高い水準で推移しており、身体が慢性的なストレスや疲労を処理しきれていないサインと考えられます。この変動は、日中の高いパフォーマンスを維持するための「予備力」が低下している状態を示唆します。心肺の安定を取り戻すため、水素吸入による酸化ストレスの早期除去を行い、基礎バイタルの鎮静化を図る戦略を推奨します。</div>

<div class="mos" style="left:1339px;top:1104px;width:606px;height:266px;font-size:16.7px;line-height:22.3px;background:radial-gradient(ellipse 80px 35px at 380px 245px,#787470,rgba(120,116,112,0)),radial-gradient(ellipse 60px 80px at 40px 150px,#a3a09e,rgba(163,160,158,0)),radial-gradient(ellipse 50px 70px at 280px 90px,#a8a5a2,rgba(168,165,162,0)),radial-gradient(ellipse 60px 50px at 560px 200px,#dcdad8,rgba(220,218,216,0)),radial-gradient(ellipse 60px 30px at 480px 60px,#aaa7a4,rgba(170,167,164,0)),#c4c1be;">データ上の睡眠効率低下とレム睡眠への偏りを改善するため、入眠儀式の再構築を推奨します。就寝90分前に入浴を済ませ、深部体温の落差を利用した自然な入眠を促してください。また、Fitbitで心拍変動の低下が見られた日は、脳の興奮を抑えるためデジタルデバイスを遮断し、脳内の老廃物除去（グリンパティック系）が最も活性化する「深い睡眠」の時間を意図的に確保することで、翌朝の意思決定スピードを劇的に高めます。<br>血圧140台および酸素飽和度93%という血管負荷を軽減するため、水素吸入を「血管資産のメンテナンス」と位置づけ、戦略的に取り入れてください。水素は血管内皮の酸化ストレスを直接除去し、柔軟性を高めることで血流をスムーズにする効果が期待できます。特に会議前後や就寝前に吸入時間を延長することで、毛細血管の隅々まで酸素供給を促し、細胞レベルでのエネルギー産生を効率化、経営持久力の底上げを図ります。</div>
</div>
</body>
</html>
